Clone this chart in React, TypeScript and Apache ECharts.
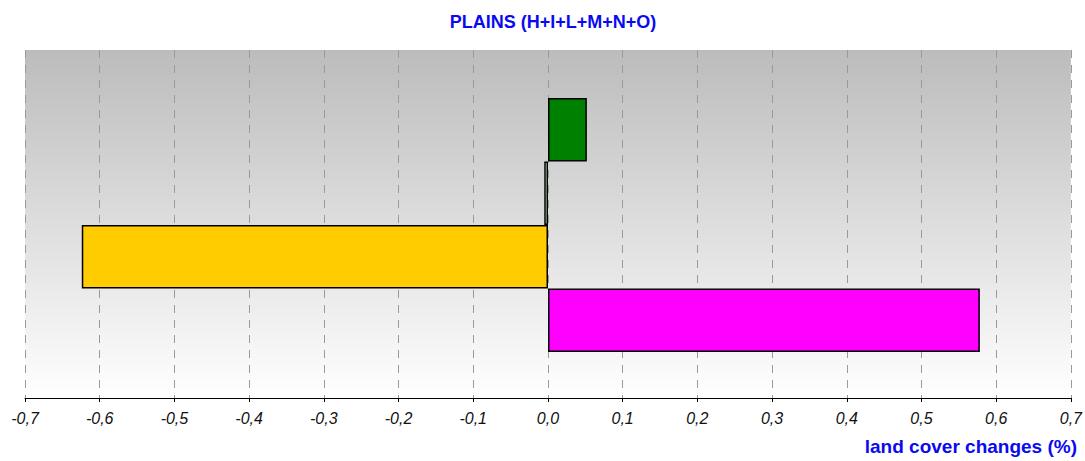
import React, { useEffect, useRef } from "react";
import * as echarts from "echarts";

const categories = ["Class 1", "Class 2", "Class 3", "Class 4"];
const values = [0.052, -0.005, -0.624, 0.578];
const barColors = ["#008000", "#ccf5cc", "#ffcc00", "#ff00ff"];
const xMin = -0.7;
const xMax = 0.7;
const xStep = 0.1;

function fmt(v: number): string {
  if (Math.abs(v) < 1e-9) return "0,0";
  return v.toFixed(1).replace(".", ",");
}

export default function App() {
  const ref = useRef<HTMLDivElement>(null);
  useEffect(() => {
    document.body.style.margin = "0";
    const chart = echarts.init(ref.current!, undefined, { renderer: "svg" });
    chart.setOption({
      animation: false,
      title: {
        text: "PLAINS (H+I+L+M+N+O)",
        left: 548,
        textAlign: "center",
        top: 8,
        textStyle: {
          color: "#0a0af0",
          fontSize: 18,
          fontWeight: "bold",
          fontFamily: "Liberation Sans, Arial, sans-serif",
        },
      },
      grid: [
        {
          left: 25,
          right: 14,
          top: 50,
          bottom: 63,
          show: true,
          borderWidth: 0,
          backgroundColor: new echarts.graphic.LinearGradient(0, 0, 0, 1, [
            { offset: 0, color: "#bcbcbc" },
            { offset: 1, color: "#ffffff" },
          ]),
        },
        { left: 25, right: 14, top: 98, bottom: 109 },
      ],
      xAxis: [
        {
          type: "value",
          gridIndex: 0,
          min: xMin,
          max: xMax,
          interval: xStep,
          axisLine: { show: true, lineStyle: { color: "#000", width: 1 } },
          axisTick: { show: true, length: 4, lineStyle: { color: "#000" } },
          axisLabel: {
            formatter: fmt,
            color: "#111",
            fontSize: 16,
            fontStyle: "italic",
            fontFamily: "Liberation Sans, Arial, sans-serif",
            margin: 12,
          },
          splitLine: {
            show: true,
            lineStyle: { color: "#9a9a9a", type: [8, 7], width: 1 },
          },
        },
        {
          type: "value",
          gridIndex: 1,
          min: xMin,
          max: xMax,
          interval: xStep,
          show: false,
          splitLine: { show: false },
        },
      ],
      yAxis: [
        {
          type: "category",
          gridIndex: 0,
          data: categories,
          show: false,
        },
        {
          type: "category",
          gridIndex: 1,
          data: categories,
          inverse: true,
          show: false,
        },
      ],
      series: [
        {
          type: "bar",
          xAxisIndex: 1,
          yAxisIndex: 1,
          barWidth: "100%",
          barCategoryGap: 0,
          data: values.map((v, i) => ({
            value: v,
            itemStyle: { color: barColors[i] },
          })),
          itemStyle: { borderColor: "#000", borderWidth: 1.5 },
        },
      ],
      graphic: [
        {
          type: "text",
          right: 8,
          top: 437,
          style: {
            text: "land cover changes (%)",
            fill: "#0a0af0",
            font: "bold 19px 'Liberation Sans', Arial, sans-serif",
          },
        },
      ],
    });
    return () => chart.dispose();
  }, []);
  return <div ref={ref} style={{ width: 1085, height: 461 }} />;
}
